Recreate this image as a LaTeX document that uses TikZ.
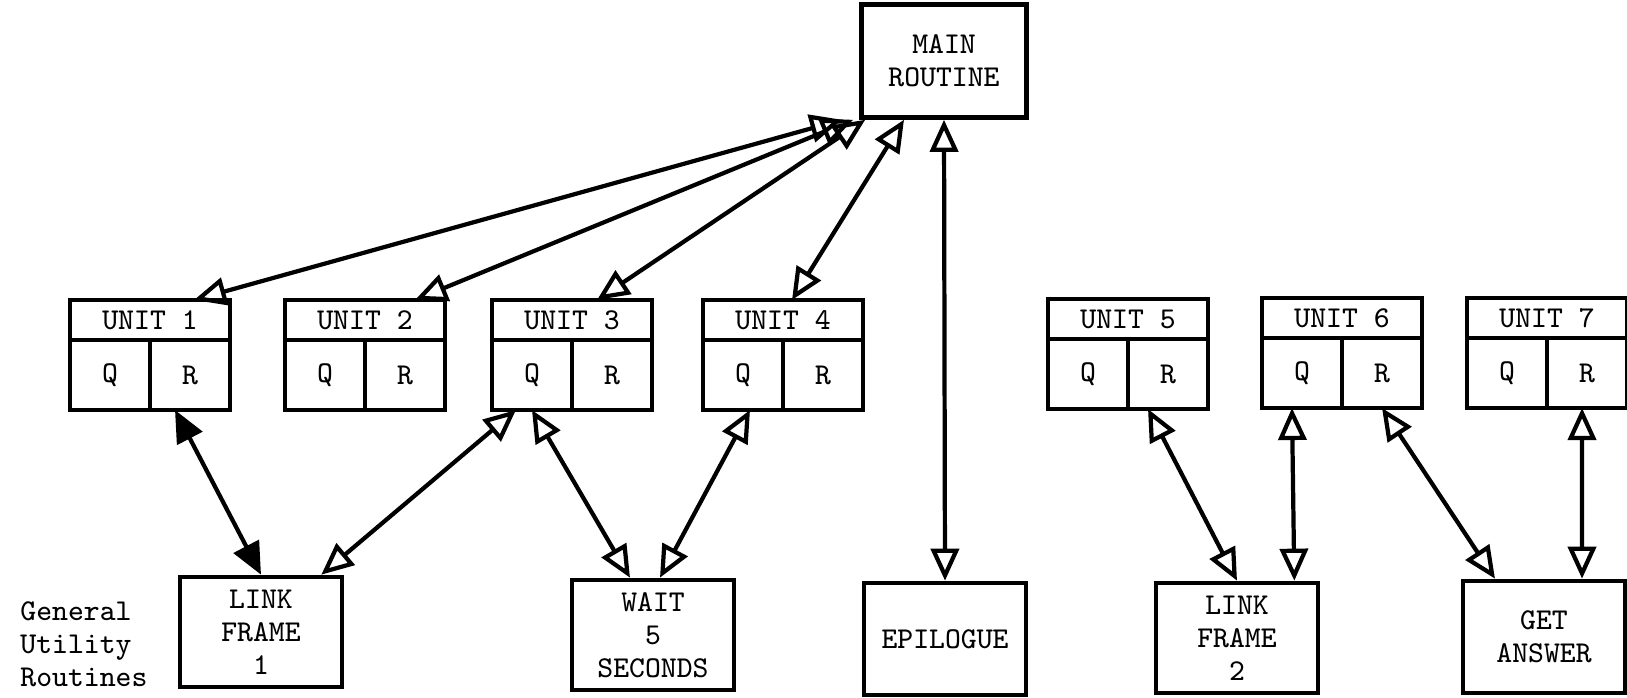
\documentclass[tikz,border=0pt]{standalone}
\usepackage{fontspec}
\usetikzlibrary{positioning,arrows.meta}

\begin{document}
\begin{tikzpicture}[x=0.01cm, y=-0.01cm, font={\ttfamily\fontsize{8.6}{9.4}\selectfont}, box/.style={draw, line width=1.3pt, minimum width=1.62cm, minimum height=1.1cm, align=center, inner sep=2pt}, unithead/.style={draw, line width=1.3pt, outer sep=0pt, minimum width=1.6cm, minimum height=0.4cm, inner sep=0pt}, cell/.style={draw, line width=1.3pt, outer sep=0pt, minimum width=0.8cm, minimum height=0.7cm, inner sep=0pt}, link/.style={{Triangle[open, length=3.2mm, width=2.8mm]}-{Triangle[open, length=3.2mm, width=2.8mm]}, line width=1.2pt}, darklink/.style={{Triangle[length=3.2mm, width=2.8mm]}-{Triangle[length=3.2mm, width=2.8mm]}, line width=1.2pt}]
\useasboundingbox (0,0) rectangle (1627,698);
\node[box, minimum width=1.65cm, minimum height=1.13cm] (main) at (944,61) {MAIN\\ROUTINE};
% units with their Q and R halves
\node[unithead] (u1h) at (150,320) {UNIT 1};
\node[cell, below right=0pt and 0pt of u1h.south west] (u1q) {Q};
\node[cell, right=0pt of u1q] (u1r) {R};
\node[unithead] (u2h) at (365,320) {UNIT 2};
\node[cell, below right=0pt and 0pt of u2h.south west] (u2q) {Q};
\node[cell, right=0pt of u2q] (u2r) {R};
\node[unithead] (u3h) at (572,320) {UNIT 3};
\node[cell, below right=0pt and 0pt of u3h.south west] (u3q) {Q};
\node[cell, right=0pt of u3q] (u3r) {R};
\node[unithead] (u4h) at (783,320) {UNIT 4};
\node[cell, below right=0pt and 0pt of u4h.south west] (u4q) {Q};
\node[cell, right=0pt of u4q] (u4r) {R};
\node[unithead] (u5h) at (1128,319) {UNIT 5};
\node[cell, below right=0pt and 0pt of u5h.south west] (u5q) {Q};
\node[cell, right=0pt of u5q] (u5r) {R};
\node[unithead] (u6h) at (1342,318) {UNIT 6};
\node[cell, below right=0pt and 0pt of u6h.south west] (u6q) {Q};
\node[cell, right=0pt of u6q] (u6r) {R};
\node[unithead] (u7h) at (1547,318) {UNIT 7};
\node[cell, below right=0pt and 0pt of u7h.south west] (u7q) {Q};
\node[cell, right=0pt of u7q] (u7r) {R};
% utility routines
\node[align=left, anchor=west] (gur) at (8,644) {General\\Utility\\Routines};
\node[box] (link1) at (261,632) {LINK\\FRAME\\1};
\node[box] (wait) at (653,635) {WAIT\\5\\SECONDS};
\node[box, minimum height=1.12cm] (epilogue) at (945,639) {EPILOGUE};
\node[box] (link2) at (1237,638) {LINK\\FRAME\\2};
\node[box, minimum height=1.12cm] (getans) at (1544,637) {GET\\ANSWER};
\draw[link] ([xshift=4.4mm]u1h.north) -- ([xshift=-1.7mm]main.south west);
\draw[link] ([xshift=5mm]u2h.north) -- ([xshift=-0.6mm]main.south west);
\draw[link] ([xshift=2.5mm]u3h.north) -- ([xshift=0.6mm]main.south west);
\draw[link] ([xshift=0.9mm]u4h.north) -- ([xshift=-4mm]main.south);
\draw[link] (main.south) -- (epilogue.north);
\draw[darklink] ([xshift=-1.5mm]u1r.south) -- (link1.north);
\draw[link] ([xshift=-1.6mm]u3q.south) -- ([xshift=-2.3mm]link1.north east);
\draw[link] (u3q.south) -- ([xshift=-2.3mm]wait.north);
\draw[link] ([xshift=0.7mm]u4q.south) -- ([xshift=0.7mm]wait.north);
\draw[link] ([xshift=-2mm]u5r.south) -- (link2.north);
\draw[link] ([xshift=-1mm]u6q.south) -- ([xshift=-2.6mm]link2.north east);
\draw[link] (u6r.south) -- ([xshift=-4.9mm]getans.north);
\draw[link] ([xshift=-0.5mm]u7r.south) -- ([xshift=3.8mm]getans.north);
\end{tikzpicture}
\end{document}
